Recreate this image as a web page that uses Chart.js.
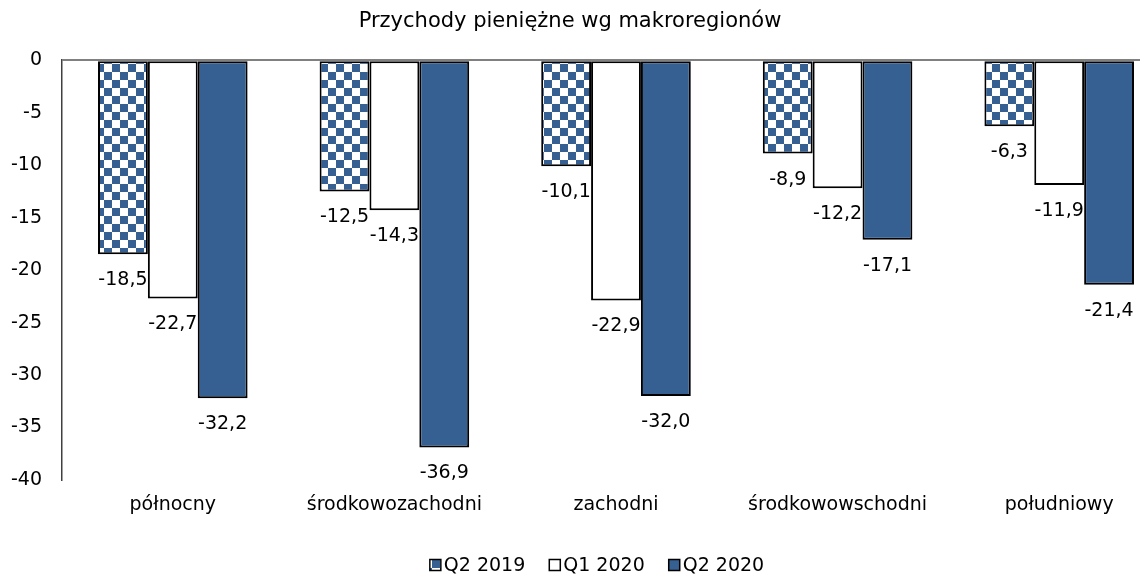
<!DOCTYPE html>
<html>
<head>
<meta charset="utf-8">
<script src="https://cdn.jsdelivr.net/npm/chart.js@4.4.1/dist/chart.umd.min.js"></script>
<style>
  html, body { margin: 0; padding: 0; background: #fff; }
</style>
</head>
<body>
<canvas id="graficoRegiony" width="1140" height="576"></canvas>
<script>
const regiony = ['północny', 'środkowozachodni', 'zachodni', 'środkowowschodni', 'południowy']
const q2_2019 = [-18.5, -12.5, -10.1, -8.9, -6.3]
const q1_2020 = [-22.7, -14.3, -22.9, -12.2, -11.9]
const q2_2020 = [-32.2, -36.9, -32.0, -17.1, -21.4]
const yTicks = [0, -5, -10, -15, -20, -25, -30, -35, -40]
const serie = ['Q2 2019', 'Q1 2020', 'Q2 2020']

const font = '"DejaVu Sans", Verdana, sans-serif'
const blue = '#366092'

// checkerboard fill for Q2 2019
function checkers(){
    const c = document.createElement('canvas')
    c.width = 16
    c.height = 16
    const cx = c.getContext('2d')
    cx.fillStyle = '#fff'
    cx.fillRect(0, 0, 16, 16)
    cx.fillStyle = blue
    cx.fillRect(0, 0, 8, 8)
    cx.fillRect(8, 8, 8, 8)
    return cx.createPattern(c, 'repeat')
}
const pattern = checkers()
const fills = [pattern, '#ffffff', blue]

function formatuj(v){
    return v.toFixed(1).replace('.', ',')
}

// plot area in the original runs past the right edge of the picture
const extendRight = {
    id: 'extendRight',
    afterLayout(chart){
        const x = chart.scales.x
        const extra = 30
        x.right += extra
        x.width += extra
        chart.chartArea.right += extra
        chart.chartArea.width += extra
        x.configure()
    }
}

const etykiety = {
    id: 'etykiety',
    afterDatasetsDraw(chart){
        const ctx = chart.ctx
        ctx.save()
        ctx.font = '19px ' + font
        ctx.fillStyle = '#000'
        ctx.textAlign = 'center'
        ctx.textBaseline = 'middle'
        chart.data.datasets.forEach((dataset, i) => {
            chart.getDatasetMeta(i).data.forEach((bar, j) => {
                ctx.fillText(formatuj(dataset.data[j]), bar.x, bar.y + 26)
            })
        })
        ctx.restore()
    }
}

const legenda = {
    id: 'legenda',
    afterDraw(chart){
        const ctx = chart.ctx
        const box = 11, gap = 3, space = 24, centerX = 597, y = 565
        ctx.save()
        ctx.font = '19px ' + font
        ctx.textBaseline = 'middle'
        ctx.fillStyle = '#000'
        const widths = serie.map(s => ctx.measureText(s).width)
        let total = widths.reduce((a, b) => a + b, 0) + serie.length * (box + gap) + (serie.length - 1) * space
        let x = centerX - total / 2
        serie.forEach((s, i) => {
            ctx.fillStyle = fills[i]
            ctx.fillRect(x, y - box / 2, box, box)
            ctx.strokeStyle = '#000'
            ctx.lineWidth = 1.5
            ctx.strokeRect(x, y - box / 2, box, box)
            ctx.fillStyle = '#000'
            ctx.fillText(s, x + box + gap, y + 1)
            x += box + gap + widths[i] + space
        })
        ctx.restore()
    }
}

const graph = new Chart(document.querySelector('#graficoRegiony'), {
    type: 'bar',
    data: {
        labels: regiony,
        datasets: [q2_2019, q1_2020, q2_2020].map((d, i) => ({
            label: serie[i],
            data: d,
            backgroundColor: fills[i],
            borderColor: '#000',
            borderWidth: 2,
            borderSkipped: false,
            categoryPercentage: 0.675,
            barPercentage: 1
        }))
    },
    options: {
        responsive: false,
        animation: false,
        layout: { padding: 0 },
        plugins: {
            legend: { display: false },
            tooltip: { enabled: false },
            title: {
                display: true,
                text: 'Przychody pieniężne wg makroregionów',
                color: '#000',
                font: { family: font, size: 21, weight: 'normal' },
                padding: { top: 9, bottom: 26 }
            }
        },
        scales: {
            x: {
                grid: { display: false, drawTicks: false },
                border: { display: false },
                ticks: { color: '#000', font: { family: font, size: 19 }, padding: 14 },
                afterFit(scale){ scale.height = 96 }
            },
            y: {
                min: -40,
                max: 0,
                afterBuildTicks(scale){ scale.ticks = yTicks.map(v => ({ value: v })) },
                grid: {
                    drawTicks: false,
                    color: c => c.tick && c.tick.value === 0 ? '#808080' : 'transparent',
                    lineWidth: 2
                },
                border: { display: true, color: '#404040', width: 1.5 },
                ticks: {
                    color: '#000',
                    font: { family: font, size: 19 },
                    padding: 20,
                    callback: v => String(v)
                },
                afterFit(scale){ scale.width = 62 }
            }
        }
    },
    plugins: [extendRight, etykiety, legenda]
})
</script>
</body>
</html>
